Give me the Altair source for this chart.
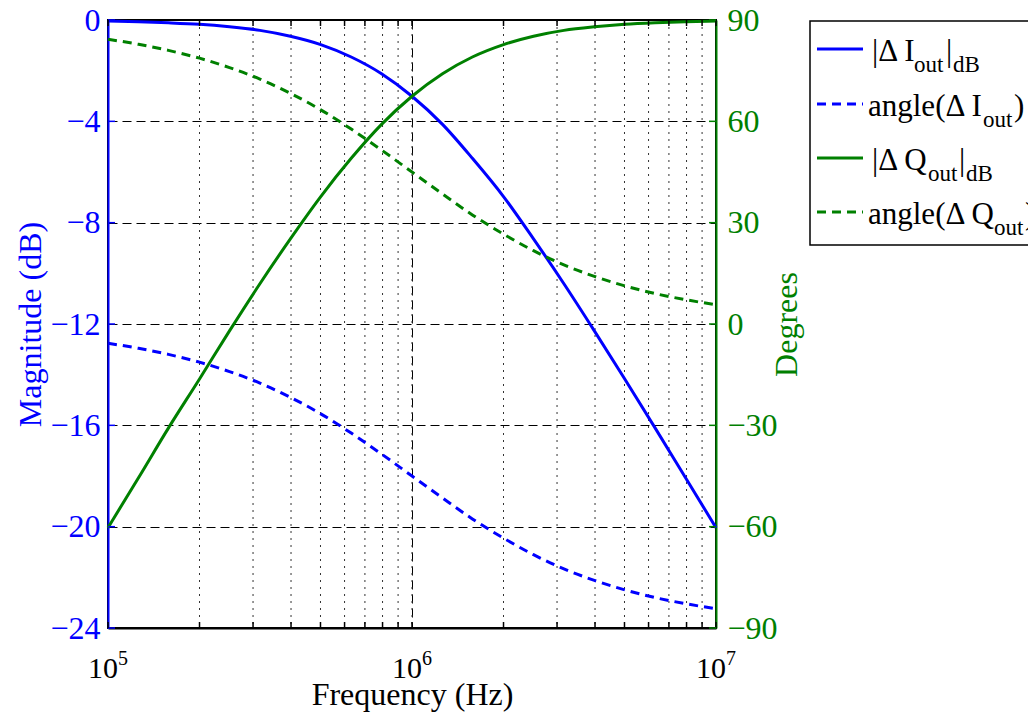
import altair as alt
import pandas as pd

# ---- data ----
freqs = [1.0e5, 1.26e5, 1.58e5, 2.0e5, 2.51e5, 3.16e5, 3.98e5, 5.01e5, 6.31e5, 7.94e5,
         1.0e6, 1.26e6, 1.58e6, 2.0e6, 2.51e6, 3.16e6, 3.98e6, 5.01e6, 6.31e6, 7.94e6, 1.0e7]
mag_i = [-0.04, -0.07, -0.11, -0.17, -0.27, -0.41, -0.64, -0.97, -1.46, -2.12,
         -3.01, -4.12, -5.46, -6.97, -8.64, -10.41, -12.27, -14.17, -16.11, -18.07, -20.04]
mag_q = [-20.04, -18.07, -16.11, -14.17, -12.27, -10.41, -8.64, -6.97, -5.46, -4.12,
         -3.01, -2.12, -1.46, -0.97, -0.64, -0.41, -0.27, -0.17, -0.11, -0.07, -0.04]
ang_i = [-5.7, -7.2, -9.0, -11.3, -14.1, -17.5, -21.7, -26.6, -32.3, -38.5,
         -45.0, -51.5, -57.7, -63.4, -68.3, -72.5, -75.9, -78.7, -81.0, -82.8, -84.3]
ang_q = [84.3, 82.8, 81.0, 78.7, 75.9, 72.5, 68.3, 63.4, 57.7, 51.5,
         45.0, 38.5, 32.3, 26.6, 21.7, 17.5, 14.1, 11.3, 9.0, 7.2, 5.7]

series_names = ["magI", "angI", "magQ", "angQ"]
series_colors = ["#0000ff", "#0000ff", "#008000", "#008000"]

x_major = [1e5, 1e6, 1e7]
x_exp = ["5", "6", "7"]
x_minor = [2e5, 3e5, 4e5, 5e5, 6e5, 7e5, 8e5, 9e5, 1e6,
           2e6, 3e6, 4e6, 5e6, 6e6, 7e6, 8e6, 9e6]
x_all_ticks = [1e5, 2e5, 3e5, 4e5, 5e5, 6e5, 7e5, 8e5, 9e5, 1e6,
               2e6, 3e6, 4e6, 5e6, 6e6, 7e6, 8e6, 9e6, 1e7]
y_left_ticks = [-24, -20, -16, -12, -8, -4, 0]
y_right_ticks = [-90, -60, -30, 0, 30, 60, 90]

FONT = "Liberation Serif"
FS = 32
BLUE = "#0000ff"
GREEN = "#008000"
W = 608
H = 608
LW = 3

df_mag = pd.DataFrame({
    "freq": freqs * 2,
    "value": mag_i + mag_q,
    "series": ["magI"] * len(freqs) + ["magQ"] * len(freqs),
})
df_ang = pd.DataFrame({
    "freq": freqs * 2,
    "value": ang_i + ang_q,
    "series": ["angI"] * len(freqs) + ["angQ"] * len(freqs),
})
df_xmaj = pd.DataFrame({"freq": x_major, "exp": x_exp})
df_xmin = pd.DataFrame({"freq": x_minor})
df_xticks = pd.DataFrame({"freq": x_all_ticks})
df_yl = pd.DataFrame({"v": y_left_ticks})
df_yr = pd.DataFrame({"v": y_right_ticks})
dummy = pd.DataFrame({"k": [0]})

xscale = alt.Scale(type="log", domain=[1e5, 1e7], nice=False)
xenc = alt.X("freq:Q", scale=xscale,
             axis=alt.Axis(values=x_major, labels=False, ticks=False, tickSize=0,
                           grid=True, gridColor="black", gridDash=[9, 5], gridWidth=1,
                           gridOpacity=1,
                           domainColor="black", domainWidth=2,
                           title="Frequency (Hz)", titleFont=FONT, titleFontSize=FS,
                           titleFontWeight="normal", titleColor="black",
                           titleX=W / 2, titleY=76, titleBaseline="alphabetic",
                           titleAlign="center"))
xenc_plain = alt.X("freq:Q", scale=xscale)

lscale = alt.Scale(domain=[-24, 0], nice=False, zero=False)
rscale = alt.Scale(domain=[-90, 90], nice=False, zero=False)
color = alt.Color("series:N", scale=alt.Scale(domain=series_names, range=series_colors),
                  legend=None)

# ---- left group (magnitude) ----
minor_grid = alt.Chart(df_xmin).mark_rule(color="#333333", strokeWidth=1,
                                         strokeDash=[2, 5]).encode(
    x=xenc, y=alt.value(0), y2=alt.value(H))

mag_lines = alt.Chart(df_mag).mark_line(strokeWidth=LW, interpolate="monotone").encode(
    x=xenc_plain,
    y=alt.Y("value:Q", scale=lscale,
            axis=alt.Axis(values=y_left_ticks, orient="left", ticks=False, tickSize=0,
                          labelPadding=8, labelFont=FONT, labelFontSize=FS,
                          labelColor=BLUE, labelBaseline="middle",
                          domainColor=BLUE, domainWidth=2,
                          grid=True, gridColor="black", gridDash=[9, 5], gridWidth=1,
                          gridOpacity=1,
                          title="Magnitude (dB)", titleFont=FONT, titleFontSize=FS,
                          titleFontWeight="normal", titleColor=BLUE,
                          titleAngle=270, titleX=-78, titleY=H / 2,
                          titleAlign="center", titleBaseline="middle")),
    color=color,
    detail="series:N",
)

left_ticks = alt.Chart(df_yl).mark_rule(color=BLUE, strokeWidth=1.5).encode(
    y=alt.Y("v:Q", scale=lscale), x=alt.value(0), x2=alt.value(7))

x_ticks_bottom = alt.Chart(df_xticks).mark_rule(color="black", strokeWidth=1.5).encode(
    x=xenc_plain, y=alt.value(H), y2=alt.value(H - 6))
x_ticks_top = alt.Chart(df_xticks).mark_rule(color="black", strokeWidth=1.5).encode(
    x=xenc_plain, y=alt.value(0), y2=alt.value(6))

x_lab_base = alt.Chart(df_xmaj).mark_text(text="10", align="center", baseline="alphabetic",
                                          dx=-5, font=FONT, fontSize=30,
                                          color="black").encode(
    x=xenc_plain, y=alt.value(658))
x_lab_exp = alt.Chart(df_xmaj).mark_text(align="left", baseline="alphabetic", dx=10,
                                         font=FONT, fontSize=20, color="black").encode(
    x=xenc_plain, y=alt.value(645), text="exp:N")

left_group = alt.layer(minor_grid, mag_lines, left_ticks, x_ticks_bottom, x_ticks_top,
                       x_lab_base, x_lab_exp)

# ---- right group (degrees) ----
ang_lines = alt.Chart(df_ang).mark_line(strokeWidth=LW, strokeDash=[9, 6],
                                        interpolate="monotone").encode(
    x=xenc_plain,
    y=alt.Y("value:Q", scale=rscale,
            axis=alt.Axis(values=y_right_ticks, orient="right", ticks=False, tickSize=0,
                          labelPadding=11, labelFont=FONT, labelFontSize=FS,
                          labelColor=GREEN, labelAlign="left", labelBaseline="middle",
                          domainColor=GREEN, domainWidth=2, grid=False,
                          title="Degrees", titleFont=FONT, titleFontSize=FS,
                          titleFontWeight="normal", titleColor=GREEN,
                          titleAngle=270, titleX=70, titleY=H / 2,
                          titleAlign="center", titleBaseline="middle")),
    color=color,
    detail="series:N",
)
right_ticks = alt.Chart(df_yr).mark_rule(color=GREEN, strokeWidth=1.5).encode(
    y=alt.Y("v:Q", scale=rscale), x=alt.value(W - 7), x2=alt.value(W))

right_group = alt.layer(ang_lines, right_ticks)

# ---- manual legend ----
LX0 = 702
legend_layers = [
    alt.Chart(dummy).mark_rect(fill="white", stroke="black", strokeWidth=1.5).encode(
        x=alt.value(LX0), x2=alt.value(940), y=alt.value(1), y2=alt.value(225))
]
entries = [
    # (line y, color, dashed, pieces)
    (29, BLUE, False, [("|Δ I", 764, 0, 31), ("out", 806, 11, 23), ("|", 838, 0, 31), ("dB", 845, 11, 23)]),
    (84, BLUE, True, [("angle(Δ I", 760, 0, 31), ("out", 875, 11, 23), (")", 906, 0, 31)]),
    (138, GREEN, False, [("|Δ Q", 764, 0, 31), ("out", 820, 11, 23), ("|", 851, 0, 31), ("dB", 858, 11, 23)]),
    (192, GREEN, True, [("angle(Δ Q", 760, 0, 31), ("out", 886, 11, 23), (")", 917, 0, 31)]),
]
for ly, col, dashed, pieces in entries:
    rule_kwargs = dict(color=col, strokeWidth=LW)
    if dashed:
        rule_kwargs["strokeDash"] = [9, 6]
    legend_layers.append(
        alt.Chart(dummy).mark_rule(**rule_kwargs).encode(
            x=alt.value(709), x2=alt.value(755), y=alt.value(ly)))
    for txt, px, dy, fs in pieces:
        legend_layers.append(
            alt.Chart(dummy).mark_text(text=txt, align="left", baseline="alphabetic",
                                       font=FONT, fontSize=fs, color="black").encode(
                x=alt.value(px), y=alt.value(ly + 12 + dy)))

legend_group = alt.layer(*legend_layers)

chart = alt.layer(left_group, right_group, legend_group).resolve_scale(
    y="independent"
).properties(
    width=W, height=H,
    autosize=alt.AutoSizeParams(type="none"),
    padding={"left": 100, "top": 12, "right": 312, "bottom": 84},
    background="white",
).configure_view(stroke="black", strokeWidth=2)

chart.save("out.html", embed_options={"renderer": "svg", "actions": False})
